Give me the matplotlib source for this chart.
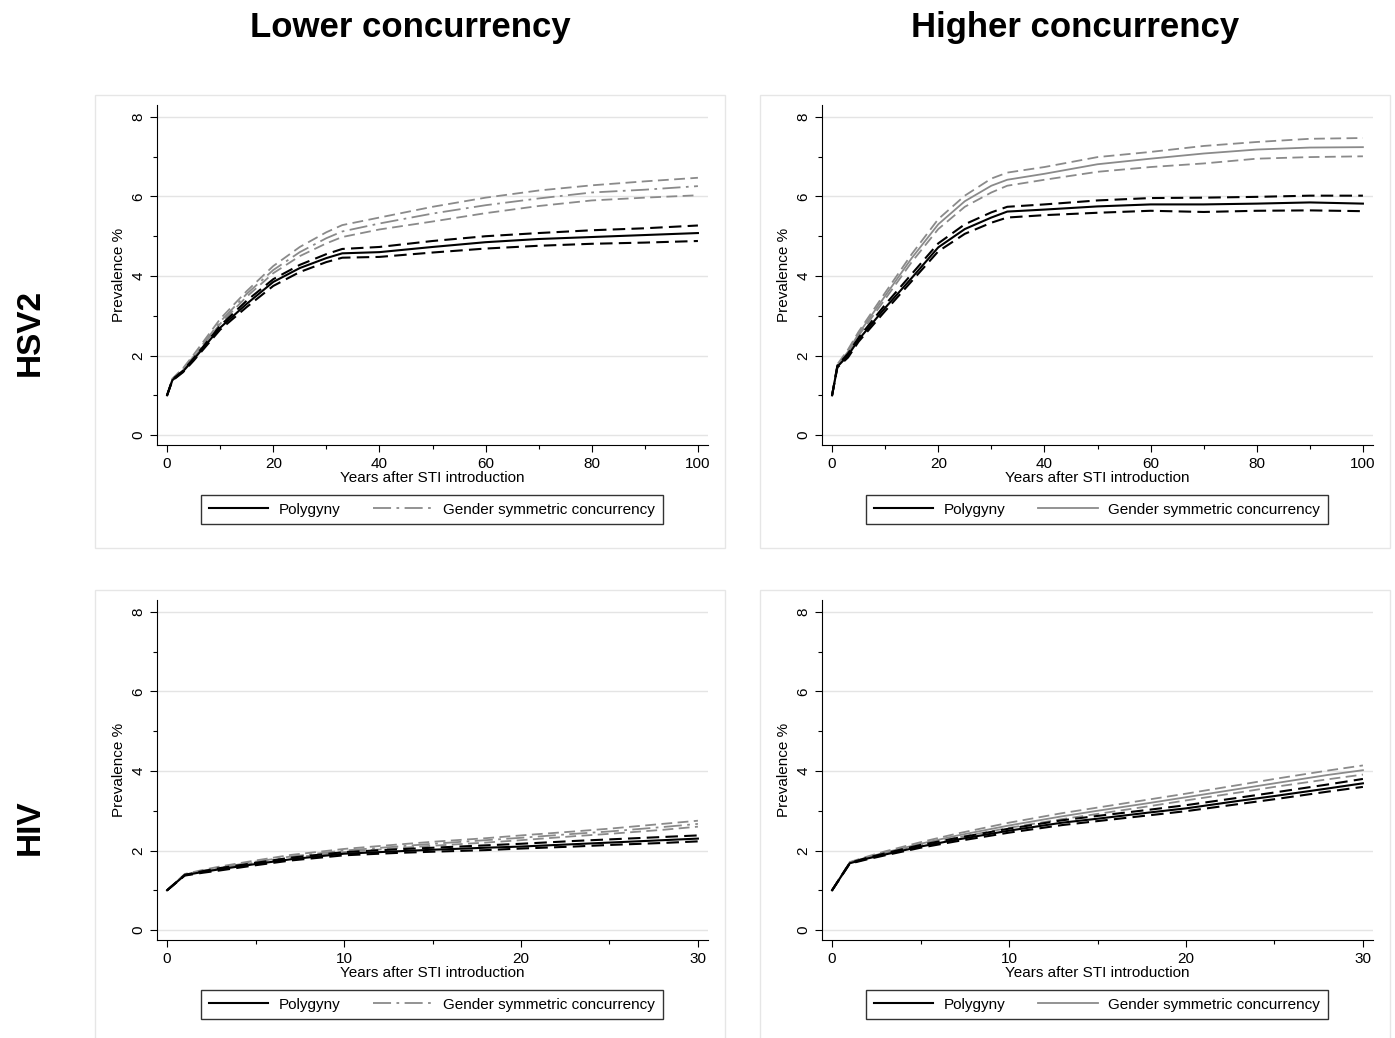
import numpy as np
import matplotlib
matplotlib.use("Agg")
import matplotlib.pyplot as plt
from matplotlib.patches import Rectangle
from matplotlib.ticker import MultipleLocator

plt.rcParams["font.family"] = ["Liberation Sans", "DejaVu Sans"]

# years after introduction
x_hsv = [0, 1, 3, 5, 10, 15, 20, 25, 30, 33, 40, 50, 60, 70, 80, 90, 100]
x_hiv = [0, 1, 2, 3, 5, 7, 10, 13, 15, 18, 20, 23, 25, 28, 30]

# HSV2, lower concurrency
hsv_low_poly = [1.0, 1.38, 1.6, 1.9, 2.7, 3.3, 3.85, 4.2, 4.45, 4.57, 4.6, 4.73, 4.85, 4.93, 4.98, 5.03, 5.08]
hsv_low_poly_hi = [1.0, 1.4, 1.62, 1.93, 2.75, 3.38, 3.92, 4.28, 4.55, 4.68, 4.73, 4.88, 5.0, 5.08, 5.15, 5.2, 5.27]
hsv_low_poly_lo = [1.0, 1.37, 1.58, 1.87, 2.65, 3.22, 3.75, 4.1, 4.35, 4.46, 4.48, 4.59, 4.69, 4.76, 4.81, 4.84, 4.88]
hsv_low_gsc = [1.0, 1.4, 1.65, 1.98, 2.85, 3.55, 4.15, 4.6, 4.95, 5.12, 5.32, 5.57, 5.78, 5.95, 6.1, 6.17, 6.26]
hsv_low_gsc_hi = [1.0, 1.42, 1.68, 2.02, 2.92, 3.62, 4.25, 4.73, 5.1, 5.28, 5.47, 5.74, 5.97, 6.15, 6.28, 6.38, 6.47]
hsv_low_gsc_lo = [1.0, 1.39, 1.62, 1.95, 2.8, 3.48, 4.07, 4.5, 4.82, 4.98, 5.17, 5.37, 5.58, 5.76, 5.9, 5.97, 6.03]

# HSV2, higher concurrency
hsv_high_poly = [1.0, 1.72, 2.0, 2.4, 3.2, 3.95, 4.72, 5.18, 5.47, 5.62, 5.67, 5.75, 5.8, 5.8, 5.82, 5.85, 5.82]
hsv_high_poly_hi = [1.0, 1.75, 2.05, 2.45, 3.28, 4.05, 4.82, 5.3, 5.6, 5.74, 5.8, 5.9, 5.96, 5.97, 5.99, 6.02, 6.02]
hsv_high_poly_lo = [1.0, 1.7, 1.95, 2.35, 3.12, 3.87, 4.62, 5.06, 5.34, 5.47, 5.53, 5.59, 5.64, 5.61, 5.64, 5.65, 5.63]
hsv_high_gsc = [1.0, 1.75, 2.1, 2.55, 3.5, 4.45, 5.3, 5.88, 6.27, 6.42, 6.57, 6.81, 6.95, 7.08, 7.18, 7.23, 7.24]
hsv_high_gsc_hi = [1.0, 1.78, 2.15, 2.6, 3.58, 4.55, 5.43, 6.02, 6.45, 6.6, 6.74, 6.99, 7.12, 7.27, 7.37, 7.45, 7.47]
hsv_high_gsc_lo = [1.0, 1.72, 2.05, 2.5, 3.42, 4.35, 5.18, 5.74, 6.1, 6.27, 6.42, 6.62, 6.74, 6.83, 6.95, 6.99, 7.01]

# HIV, lower concurrency
hiv_low_poly = [1.0, 1.38, 1.46, 1.53, 1.66, 1.78, 1.92, 1.98, 2.02, 2.07, 2.1, 2.16, 2.2, 2.26, 2.3]
hiv_low_poly_hi = [1.0, 1.39, 1.48, 1.56, 1.69, 1.82, 1.96, 2.03, 2.07, 2.13, 2.17, 2.24, 2.28, 2.34, 2.38]
hiv_low_poly_lo = [1.0, 1.37, 1.44, 1.5, 1.63, 1.75, 1.88, 1.94, 1.97, 2.01, 2.05, 2.1, 2.14, 2.19, 2.23]
hiv_low_gsc = [1.0, 1.4, 1.49, 1.57, 1.72, 1.85, 2.0, 2.1, 2.17, 2.26, 2.32, 2.42, 2.48, 2.59, 2.67]
hiv_low_gsc_hi = [1.0, 1.41, 1.51, 1.6, 1.75, 1.89, 2.04, 2.15, 2.22, 2.31, 2.38, 2.48, 2.55, 2.67, 2.75]
hiv_low_gsc_lo = [1.0, 1.39, 1.47, 1.55, 1.7, 1.82, 1.96, 2.06, 2.12, 2.2, 2.26, 2.36, 2.42, 2.52, 2.6]

# HIV, higher concurrency
hiv_high_poly = [1.0, 1.68, 1.8, 1.9, 2.1, 2.27, 2.5, 2.7, 2.8, 2.96, 3.06, 3.25, 3.37, 3.56, 3.69]
hiv_high_poly_hi = [1.0, 1.69, 1.82, 1.93, 2.14, 2.31, 2.55, 2.76, 2.87, 3.03, 3.14, 3.33, 3.46, 3.66, 3.8]
hiv_high_poly_lo = [1.0, 1.67, 1.78, 1.88, 2.07, 2.23, 2.45, 2.64, 2.74, 2.89, 2.99, 3.17, 3.29, 3.48, 3.6]
hiv_high_gsc = [1.0, 1.7, 1.83, 1.95, 2.17, 2.37, 2.63, 2.86, 3.0, 3.2, 3.34, 3.55, 3.69, 3.9, 4.02]
hiv_high_gsc_hi = [1.0, 1.71, 1.85, 1.98, 2.21, 2.42, 2.7, 2.94, 3.08, 3.29, 3.43, 3.65, 3.8, 4.01, 4.14]
hiv_high_gsc_lo = [1.0, 1.69, 1.81, 1.92, 2.13, 2.32, 2.57, 2.79, 2.92, 3.12, 3.26, 3.46, 3.6, 3.79, 3.91]

col_titles = ["Lower concurrency", "Higher concurrency"]
row_titles = ["HSV2", "HIV"]

GRAY = "#8a8a8a"
W, H = 1395, 1038
fig = plt.figure(figsize=(W / 100, H / 100), dpi=100)


def fx(px):
    return px / W


def fy(py):
    return 1 - py / H


panels = [
    (0, 0, x_hsv, hsv_low_poly, hsv_low_poly_hi, hsv_low_poly_lo, hsv_low_gsc, hsv_low_gsc_hi, hsv_low_gsc_lo, "dashdot"),
    (0, 1, x_hsv, hsv_high_poly, hsv_high_poly_hi, hsv_high_poly_lo, hsv_high_gsc, hsv_high_gsc_hi, hsv_high_gsc_lo, "solid"),
    (1, 0, x_hiv, hiv_low_poly, hiv_low_poly_hi, hiv_low_poly_lo, hiv_low_gsc, hiv_low_gsc_hi, hiv_low_gsc_lo, "dashdot"),
    (1, 1, x_hiv, hiv_high_poly, hiv_high_poly_hi, hiv_high_poly_lo, hiv_high_gsc, hiv_high_gsc_hi, hiv_high_gsc_lo, "solid"),
]

dash = (0, (6, 3))
dashdot = (0, (10, 3, 1.5, 3))

for r, c, x, pm, ph, pl, gm, gh, gl, gstyle in panels:
    dx = 665 * c
    dy = 495 * r
    # panel frame
    fig.patches.append(Rectangle((fx(95 + dx), fy(548 + dy)), fx(630), 453 / H,
                                 transform=fig.transFigure, fill=False,
                                 edgecolor="#e6e6e6", linewidth=1))
    ax = fig.add_axes([fx(157 + dx), fy(445 + dy), fx(551), 340 / H])
    xmax = x[-1]
    pad = xmax * 0.019
    ax.set_xlim(-pad, xmax + pad)
    ax.set_ylim(-0.25, 8.3)

    ax.plot(x, gh, color=GRAY, lw=1.3, ls=dash)
    ax.plot(x, gl, color=GRAY, lw=1.3, ls=dash)
    ax.plot(x, gm, color=GRAY, lw=1.3, ls=dashdot if gstyle == "dashdot" else "-",
            label="Gender symmetric concurrency")
    ax.plot(x, ph, color="black", lw=1.5, ls=dash)
    ax.plot(x, pl, color="black", lw=1.5, ls=dash)
    ax.plot(x, pm, color="black", lw=1.5, ls="-", label="Polygyny")

    major = 20 if xmax == 100 else 10
    ax.xaxis.set_major_locator(MultipleLocator(major))
    ax.xaxis.set_minor_locator(MultipleLocator(major / 2))
    ax.yaxis.set_major_locator(MultipleLocator(2))
    ax.yaxis.set_minor_locator(MultipleLocator(1))
    ax.tick_params(which="major", length=5, width=0.8, labelsize=11)
    ax.tick_params(which="minor", length=3, width=0.8)
    for lab in ax.get_yticklabels():
        lab.set_rotation(90)
        lab.set_va("center")
    ax.spines["top"].set_visible(False)
    ax.spines["right"].set_visible(False)
    ax.grid(axis="y", which="major", color="#e4e4e4", lw=1)
    ax.set_axisbelow(True)
    ax.set_xlabel("Years after STI introduction", fontsize=11, labelpad=0)
    ax.set_ylabel("Prevalence %", fontsize=11, labelpad=4)

    handles, labels = ax.get_legend_handles_labels()
    order = [labels.index("Polygyny"), labels.index("Gender symmetric concurrency")]
    leg = ax.legend([handles[i] for i in order], [labels[i] for i in order],
                    loc="upper center", bbox_to_anchor=(0.499, -0.125), ncol=2,
                    fontsize=11, frameon=True, fancybox=False, edgecolor="black",
                    handlelength=3.9, handletextpad=0.7, columnspacing=2.1,
                    borderpad=0.5)
    leg.get_frame().set_linewidth(1.0)

for i, t in enumerate(col_titles):
    fig.text(fx(410 + 665 * i), fy(27), t, fontsize=25, fontweight="bold",
             ha="center", va="center")
for i, t in enumerate(row_titles):
    fig.text(fx(30), fy(332 + 495 * i), t, fontsize=24, fontweight="bold",
             ha="center", va="center", rotation=90)

fig.savefig("out.png", dpi=100)
